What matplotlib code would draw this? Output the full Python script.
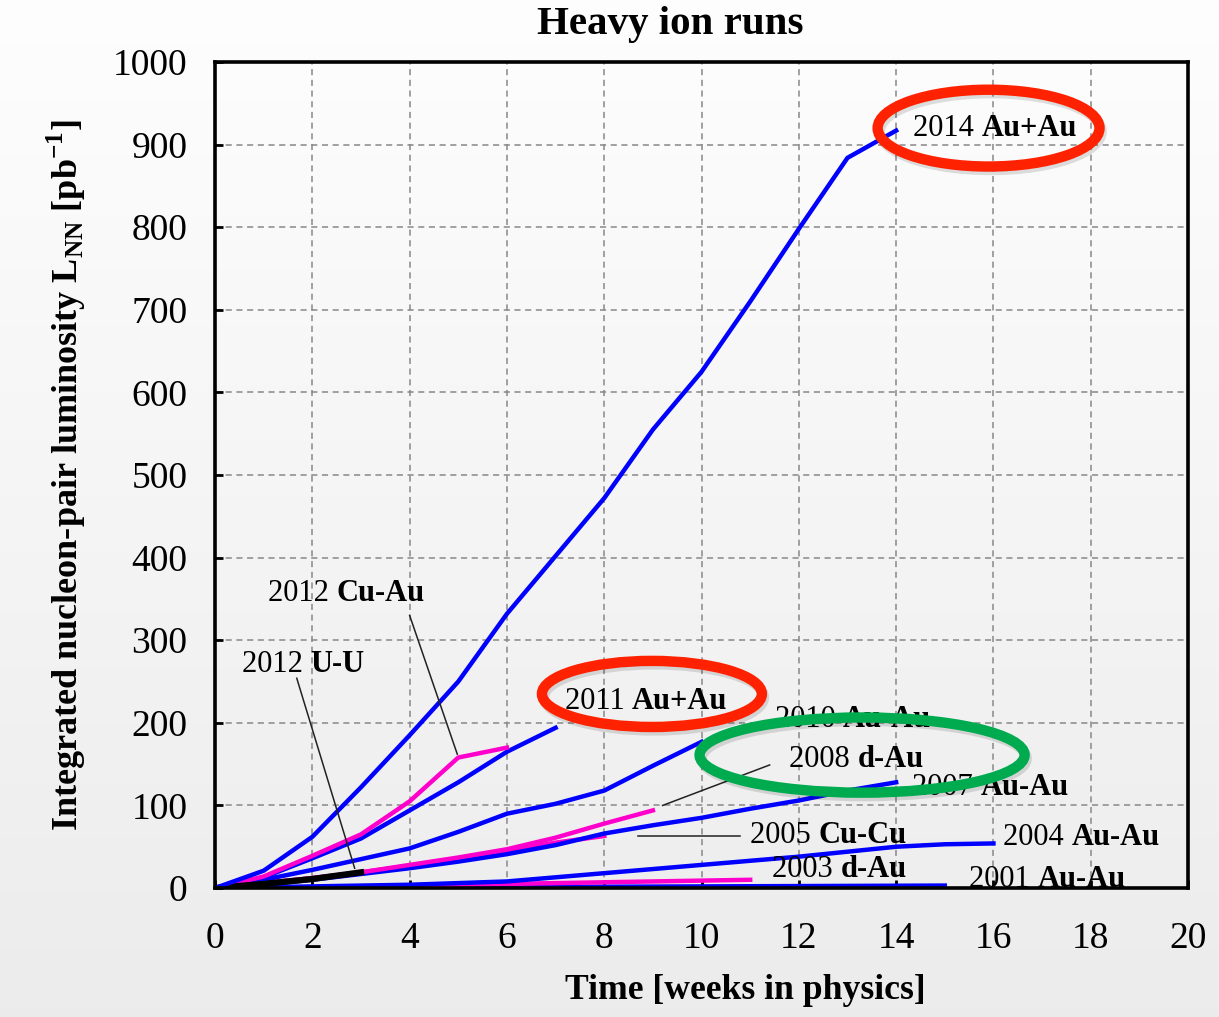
import numpy as np
import matplotlib
matplotlib.use("Agg")
import matplotlib.pyplot as plt
from matplotlib.patches import Ellipse
import matplotlib.patheffects as pe

plt.rcParams['font.family'] = ['Liberation Serif', 'DejaVu Serif']
plt.rcParams['mathtext.fontset'] = 'custom'
plt.rcParams['mathtext.rm'] = 'Liberation Serif:bold'
plt.rcParams['mathtext.bf'] = 'Liberation Serif:bold'

# Integrated luminosity curves (weeks, pb^-1)
wk_2014 = [0, 1, 2, 3, 4, 5, 6, 7, 8, 9, 10, 11, 12, 13, 14]
lum_2014 = [0, 21, 62, 122, 185, 250, 332, 402, 472, 555, 625, 710, 798, 884, 917]

wk_2012cu = [0, 1, 2, 3, 4, 5, 6]
lum_2012cu = [0, 14, 39, 65, 105, 158, 170]

wk_2011 = [0, 1, 2, 3, 4, 5, 6, 7]
lum_2011 = [0, 13, 36, 60, 94, 128, 165, 194]

wk_2010 = [0, 1, 2, 3, 4, 5, 6, 7, 8, 9, 10]
lum_2010 = [0, 10, 22, 35, 48, 68, 90, 102, 118, 148, 177]

wk_2008 = [0, 1, 2, 3, 4, 5, 6, 7, 8, 9]
lum_2008 = [0, 6, 12, 19, 28, 37, 47, 61, 78, 94]

wk_2007 = [0, 1, 2, 3, 4, 5, 6, 7, 8, 9, 10, 11, 12, 13, 14]
lum_2007 = [0, 4, 10, 17, 24, 32, 41, 52, 66, 76, 85, 96, 106, 118, 128]

wk_2005 = [0, 1, 2, 3, 4, 5, 6, 7, 8]
lum_2005 = [0, 6, 12, 19, 27, 36, 45, 55, 63]

wk_2004 = [0, 2, 4, 6, 8, 10, 11, 12, 13, 14, 15, 16]
lum_2004 = [0, 2, 4, 8, 18, 28, 33, 38, 44, 50, 53, 54]

wk_2003 = [0, 2, 4, 6, 8, 10, 11]
lum_2003 = [0, 1, 3, 5, 7, 9, 10]

wk_2001 = [0, 5, 10, 15]
lum_2001 = [0, 1, 2, 3]

wk_2012uu = [0, 1, 2, 3]
lum_2012uu = [0, 5, 11, 19]

blue = '#0000ff'
pink = '#ff00cc'

fig = plt.figure(figsize=(12.19, 10.17), dpi=100)

# slide-like grey gradient background
bg = fig.add_axes([0, 0, 1, 1], zorder=-10)
grad = np.linspace(0.995, 0.925, 256).reshape(-1, 1)
bg.imshow(np.dstack([grad, grad, grad]), aspect='auto', extent=[0, 1, 0, 1])
bg.axis('off')

ax = fig.add_axes([0.1764, 0.1268, 0.7982, 0.8122])
ax.set_facecolor('none')

ax.plot(wk_2001, lum_2001, color=blue, lw=3.2)
ax.plot(wk_2003, lum_2003, color=pink, lw=3.2)
ax.plot(wk_2004, lum_2004, color=blue, lw=3.2)
ax.plot(wk_2005, lum_2005, color=pink, lw=3.2)
ax.plot(wk_2007, lum_2007, color=blue, lw=3.2)
ax.plot(wk_2008, lum_2008, color=pink, lw=3.2)
ax.plot(wk_2010, lum_2010, color=blue, lw=3.2)
ax.plot(wk_2011, lum_2011, color=blue, lw=3.2)
ax.plot(wk_2012cu, lum_2012cu, color=pink, lw=3.2)
ax.plot(wk_2012uu, lum_2012uu, color='black', lw=4.5)
ax.plot(wk_2014, lum_2014, color=blue, lw=3.2)

ax.set_xlim(0, 20)
ax.set_ylim(0, 1000)
ax.set_xticks(range(0, 21, 2))
ax.set_yticks(range(0, 1001, 100))
ax.grid(True, linestyle=(0, (4, 3)), color='#888888', lw=1.1)
ax.tick_params(direction='in', length=6, width=2, labelsize=27)
ax.tick_params(axis='x', pad=24)
ax.tick_params(axis='y', pad=20)
for s in ax.spines.values():
    s.set_linewidth(2.6)

ax.set_title('Heavy ion runs', fontsize=29.5, fontweight='bold', pad=20, x=0.468)
ax.set_xlabel('Time [weeks in physics]', fontsize=25.7, fontweight='bold',
              labelpad=13, x=0.545)
ax.set_ylabel(r'Integrated nucleon-pair luminosity L$_{\mathbf{NN}}$ [pb$^{\mathbf{-1}}$]',
              fontsize=26, fontweight='bold', labelpad=18)


def run_label(x, y, year, kind):
    t = ax.text(x, y, year + ' ', fontsize=22, ha='left', va='baseline', zorder=4)
    ax.annotate(kind, xy=(1, 0), xycoords=t, ha='left', va='bottom',
                fontsize=22, fontweight='bold', zorder=4)


run_label(14.35, 910, '2014', 'Au+Au')
run_label(1.09, 347, '2012', 'Cu-Au')
run_label(0.55, 261, '2012', 'U-U')
run_label(7.19, 217, '2011', 'Au+Au')
run_label(11.5, 195, '2010', 'Au-Au')
run_label(11.8, 146, '2008', 'd-Au')
run_label(14.33, 113, '2007', 'Au-Au')
run_label(11.0, 55, '2005', 'Cu-Cu')
run_label(16.2, 52, '2004', 'Au-Au')
run_label(11.45, 13, '2003', 'd-Au')
run_label(15.5, 1, '2001', 'Au-Au')

# pointer lines
ax.plot([1.68, 2.87], [254, 24], color='#222222', lw=1.1)
ax.plot([4.0, 4.98], [330, 162], color='#222222', lw=1.1)
ax.plot([11.4, 9.2], [149, 100], color='#222222', lw=1.1)
ax.plot([8.7, 10.8], [63, 63], color='#222222', lw=1.1)

# highlight ellipses
shadow = [pe.SimpleLineShadow(offset=(1.5, -2.5), shadow_color='black', alpha=0.12),
          pe.Normal()]
for (cx, cy, w, h, col) in [(15.9, 920, 4.56, 93, '#ff2200'),
                            (8.98, 235, 4.52, 80, '#ff2200'),
                            (13.3, 161, 6.68, 91, '#00aa4f')]:
    e = Ellipse((cx, cy), w, h, fill=False, edgecolor=col, lw=7.5,
                zorder=6, clip_on=False, path_effects=shadow)
    ax.add_patch(e)

fig.savefig('out.png', dpi=100)
